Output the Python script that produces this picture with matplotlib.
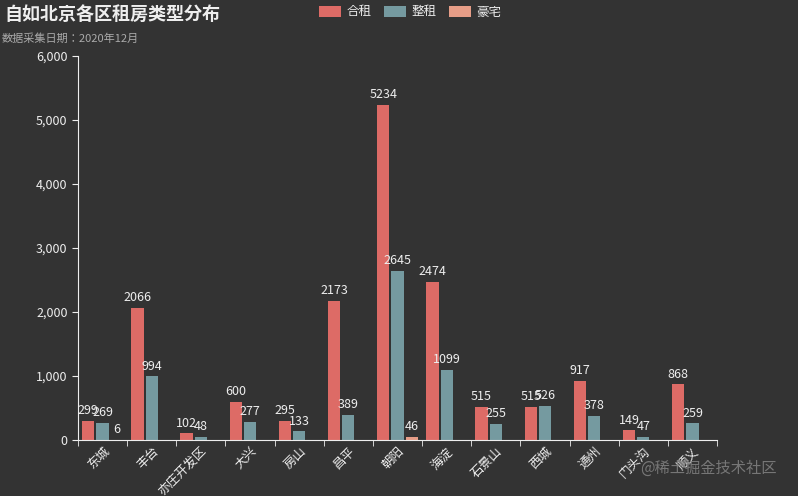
import numpy as np
import matplotlib.pyplot as plt

plt.rcParams["font.family"] = ["Noto Sans CJK JP", "Noto Sans CJK SC", "Noto Sans CJK TC",
                               "Noto Sans CJK KR", "DejaVu Sans"]

districts = ["东城", "丰台", "亦庄开发区", "大兴", "房山", "昌平", "朝阳",
             "海淀", "石景山", "西城", "通州", "门头沟", "顺义"]
shared = [299, 2066, 102, 600, 295, 2173, 5234, 2474, 515, 515, 917, 149, 868]
whole = [269, 994, 48, 277, 133, 389, 2645, 1099, 255, 526, 378, 47, 259]
luxury = [6, 0, 0, 0, 0, 0, 46, 0, 0, 0, 0, 0, 0]

series = [("合租", shared, "#dd6b66"), ("整租", whole, "#759aa0"), ("豪宅", luxury, "#e69d87")]

bg = "#333333"
fig = plt.figure(figsize=(7.98, 4.96), dpi=100, facecolor=bg)
ax = fig.add_axes([78 / 798, 56 / 496, 639 / 798, 384 / 496], facecolor=bg)

x = np.arange(len(districts))
w = 0.25
for k, (name, vals, col) in enumerate(series):
    pos = x + (k - 1) * 0.29
    ax.bar(pos, vals, w, color=col, label=name)
    for p, v in zip(pos, vals):
        if v > 0:
            ax.text(p, v + 60, str(v), ha="center", va="bottom", color="#eeeeee", fontsize=9)

ax.set_xlim(-0.5, len(districts) - 0.5)
ax.set_ylim(0, 6000)
ax.set_yticks(range(0, 6001, 1000))
ax.set_yticklabels([f"{v:,}" for v in range(0, 6001, 1000)], color="#eeeeee", fontsize=9)
ax.set_xticks(x)
ax.set_xticklabels(districts, rotation=45, ha="right", rotation_mode="anchor", color="#eeeeee", fontsize=9)
ax.set_xticks(np.arange(-0.5, len(districts)), minor=True)
ax.tick_params(axis="x", which="major", length=0)
ax.tick_params(axis="x", which="minor", length=4, color="#eeeeee")
ax.tick_params(axis="y", length=4, color="#eeeeee")
for s in ["top", "right"]:
    ax.spines[s].set_visible(False)
for s in ["left", "bottom"]:
    ax.spines[s].set_color("#eeeeee")

fig.text(4 / 798, 1 - 14 / 496, "自如北京各区租房类型分布", color="#eeeeee", fontsize=13,
         fontweight="bold", va="center")
fig.text(2 / 798, 1 - 39 / 496, "数据采集日期：2020年12月", color="#aaaaaa", fontsize=8, va="center")
leg = fig.legend(loc="center", bbox_to_anchor=(410 / 798, 1 - 12 / 496), ncol=3, frameon=False,
                 fontsize=9, labelcolor="#eeeeee", handlelength=1.8, handleheight=1.0,
                 columnspacing=1.0, handletextpad=0.4)
fig.text(640 / 798, 1 - 468 / 496, "@稀土掘金技术社区", color="#888888", fontsize=11,
         va="center", alpha=0.8)

fig.savefig("out.png", dpi=100, facecolor=bg)
